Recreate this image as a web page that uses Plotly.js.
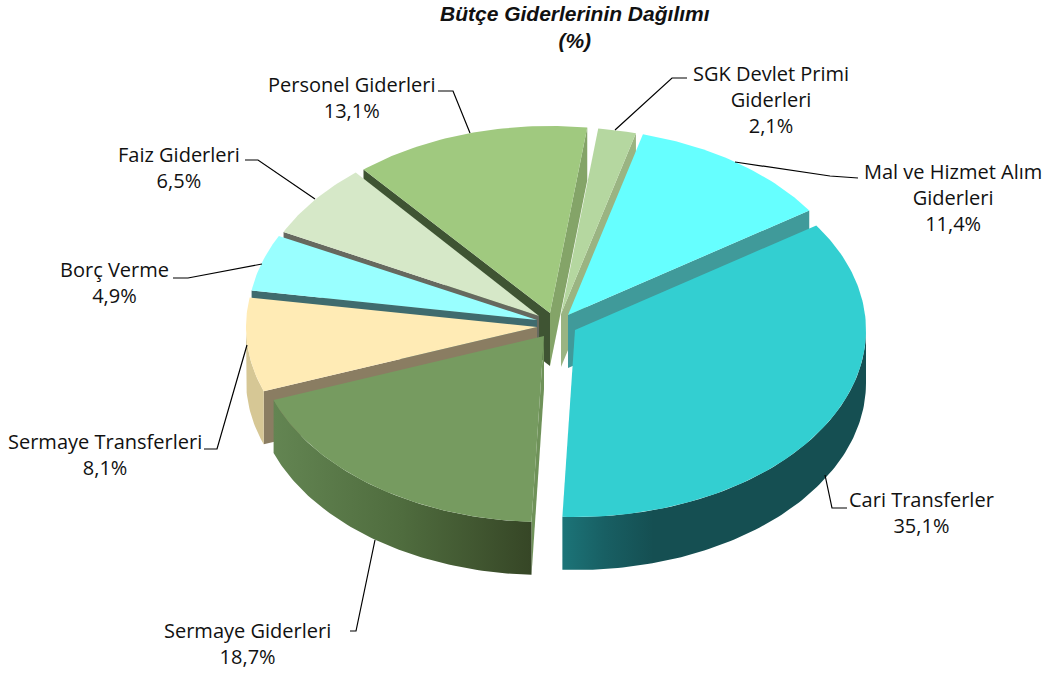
<!DOCTYPE html>
<html>
<head>
<meta charset="utf-8">
<script src="https://cdn.plot.ly/plotly-3.0.1.min.js"></script>
<style>html,body{margin:0;padding:0;background:#fff}#chart{width:1053px;height:675px}</style>
</head>
<body>
<div id="chart"></div>
<script>
// Data, clockwise from the first slice
const categories = ["Cari Transferler","Sermaye Giderleri","Sermaye Transferleri","Borç Verme","Faiz Giderleri","Personel Giderleri","SGK Devlet Primi<br>Giderleri","Mal ve Hizmet Alım<br>Giderleri"];
const values = [35.1,18.7,8.1,4.9,6.5,13.1,2.1,11.4];
const valueLabels = ["35,1%","18,7%","8,1%","4,9%","6,5%","13,1%","2,1%","11,4%"];

// Styles
const topColors = ["#33cfd1","#769b60","#ffebb5","#99ffff","#d6e8c8","#a0c97f","#b5d7a0","#66ffff"];
const startWallColors = [null,"#6f9259","#8a7d62","#3f6b6e","#66695f","#3f5433",null,null];
const endWallColors = [null,null,null,null,null,"#84a468","#9ab482","#409a9a"];
const outerWallColors = [
  [[0,"#1c7478"],[0.14,"#185f63"],[0.3,"#154f52"],[1,"#154f52"]],
  [[0,"#638552"],[0.5,"#4f6c3e"],[1,"#364626"]],
  [[0,"#d6c795"],[1,"#d6c795"]],
  null,null,null,null,null];

// Geometry of the tilted pie, in the page's axis units
const startAngle = 56, depth = 53;
const radiusX = [291,288,291,289,286,291,291,291];
const radiusY = [187,186,187,187,187,187,187,187];
const apexX = [575,544,537,537,539,550,561,568];
const apexY = [330,336,327,320,316,313,314,315];
const drawOrder = [5,6,7,4,3,2,1,0];

// Leader lines
const leaderX = [[847,832,825],[350,356,375],[204,217,247],[173,188,262],[245,258,315],[438,453,470],[687,672,615],[858,830,735]];
const leaderY = [[508,508,475],[631,631,540],[449,449,345],[278,278,264],[160,160,199],[91,91,133],[78,78,130],[178,176,162]];
const labelX = [921,247,105,114,179,351,771,953];
const labelY = [512,643,454,282,167,97,99,197];

const total = values.reduce((a,b)=>a+b,0);
const angles = []; let acc = startAngle;
values.forEach(v=>{const a0=acc; acc+=v/total*360; angles.push([a0,acc]);});

function rim(i,deg){const r=deg*Math.PI/180;return [apexX[i]+radiusX[i]*Math.sin(r),apexY[i]-radiusY[i]*Math.cos(r)];}
function arc(i,a0,a1){const pts=[],n=Math.max(2,Math.ceil(Math.abs(a1-a0)));for(let k=0;k<=n;k++)pts.push(rim(i,a0+(a1-a0)*k/n));return pts;}
function poly(pts,color,name,grad){
  const t={type:"scatter",mode:"lines",x:pts.map(p=>p[0]).concat(pts[0][0]),y:pts.map(p=>p[1]).concat(pts[0][1]),
    fill:"toself",line:{width:0,color:color||"#000"},hoverinfo:"skip",name:name,showlegend:false};
  if(grad){t.fillgradient={type:"horizontal",colorscale:grad};}else{t.fillcolor=color;}
  return t;
}
function cutWall(i,deg,color,name){
  const p=rim(i,deg);
  return poly([[apexX[i],apexY[i]],p,[p[0],p[1]+depth],[apexX[i],apexY[i]+depth]],color,name);
}

const traces=[];
drawOrder.forEach(i=>{
  const [a0,a1]=angles[i], name=categories[i].replace("<br>"," ");
  if(endWallColors[i]) traces.push(cutWall(i,a1,endWallColors[i],name+" wall"));
  if(startWallColors[i]) traces.push(cutWall(i,a0,startWallColors[i],name+" wall"));
  if(outerWallColors[i]){
    const from=Math.max(a0,90), to=Math.min(a1,270);
    const top=arc(i,from,to), bottom=top.map(p=>[p[0],p[1]+depth]).reverse();
    traces.push(poly(top.concat(bottom),"#555",name+" side",outerWallColors[i]));
  }
  traces.push(poly([[apexX[i],apexY[i]]].concat(arc(i,a0,a1)),topColors[i],name));
});
categories.forEach((c,i)=>traces.push({type:"scatter",mode:"lines",x:leaderX[i],y:leaderY[i],
  line:{color:"#000",width:1.2},hoverinfo:"skip",showlegend:false,name:c.replace("<br>"," ")+" leader"}));

const labelFont={family:"Open Sans, sans-serif",size:20,color:"#111"};
const annotations=categories.map((c,i)=>({x:labelX[i],y:labelY[i],xref:"x",yref:"y",showarrow:false,align:"center",
  text:c+"<br>"+valueLabels[i],font:labelFont,xanchor:"center",yanchor:"middle"}));
annotations.push({x:575,y:27,xref:"x",yref:"y",showarrow:false,align:"center",xanchor:"center",yanchor:"middle",
  text:"<b><i>Bütçe Giderlerinin Dağılımı<br>(%)</i></b>",font:{family:"Liberation Sans, Arial, sans-serif",size:21,color:"#111"}});

Plotly.newPlot("chart",traces,{
  width:1053,height:675,margin:{l:0,r:0,t:0,b:0},paper_bgcolor:"#fff",plot_bgcolor:"#fff",showlegend:false,
  xaxis:{range:[0,1053],visible:false,fixedrange:true},
  yaxis:{range:[675,0],visible:false,fixedrange:true},
  annotations:annotations
},{displayModeBar:false,staticPlot:true});
</script>
</body>
</html>
